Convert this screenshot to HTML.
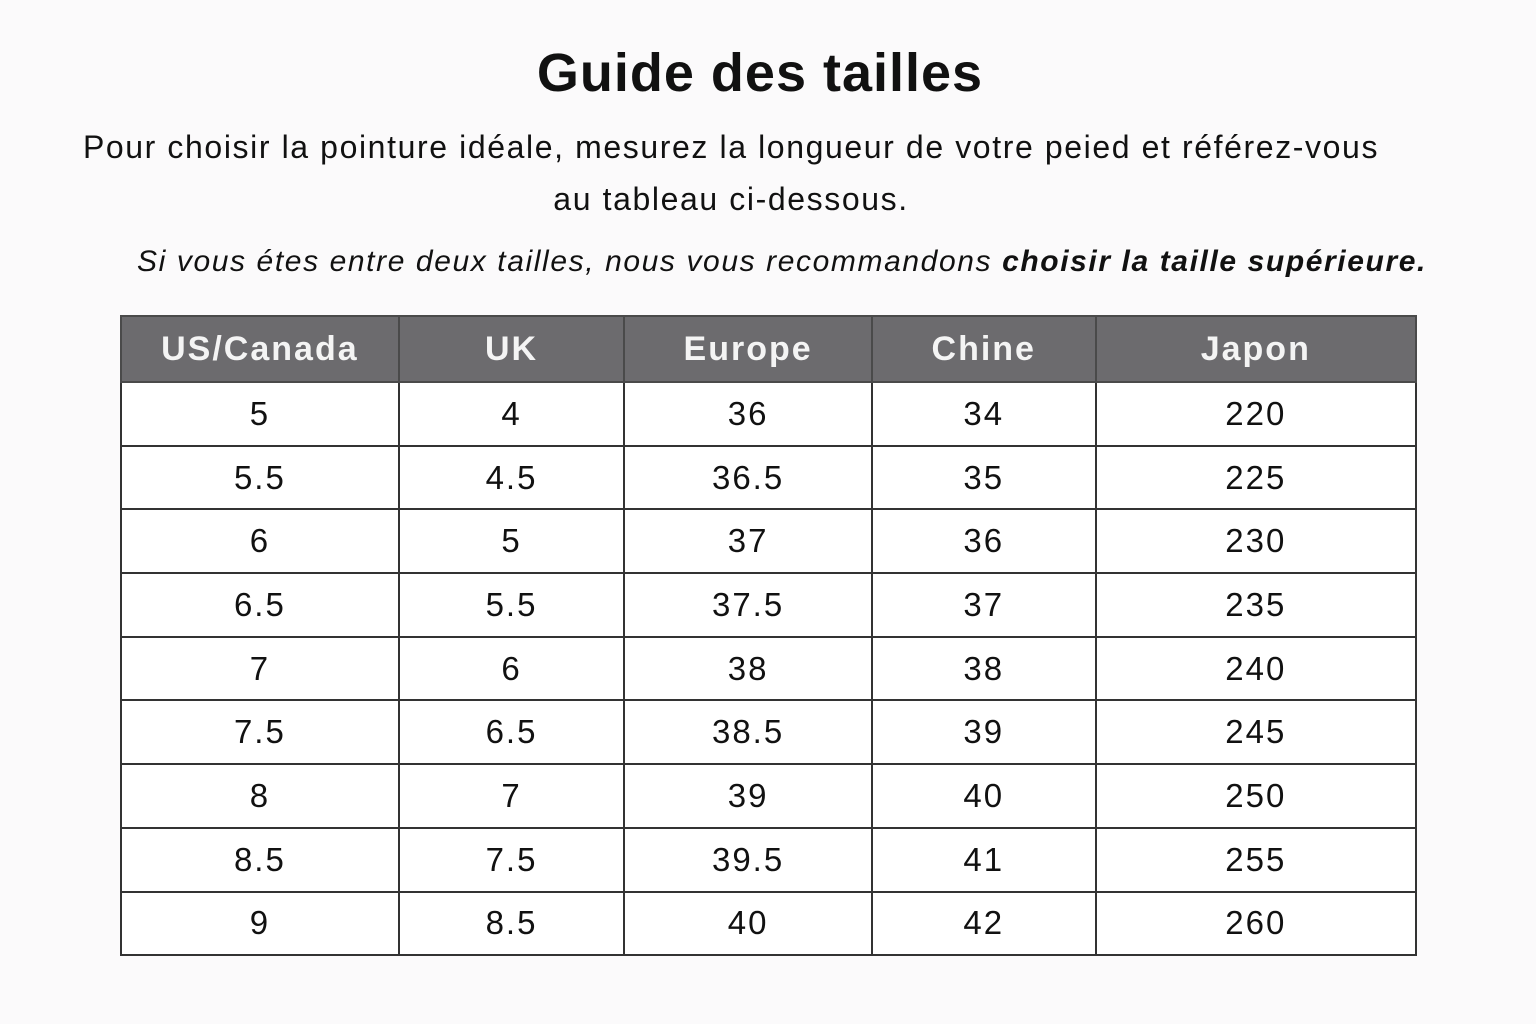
<!DOCTYPE html>
<html><head><meta charset="utf-8"><style>
body{margin:0;width:1536px;height:1024px;background:#fbfafb;font-family:"Liberation Sans",sans-serif;color:#111;position:relative;overflow:hidden}
.t{position:absolute;left:0;width:1536px;text-align:center;white-space:nowrap}
table{position:absolute;left:120px;top:315px;border-collapse:collapse;width:1297px}
td,th{border:2px solid #333;text-align:center;font-size:33px;letter-spacing:2px;padding:0;height:61.7px;font-weight:normal;background:#fff}
th{background:#6c6b6e;color:#f4f4f4;font-weight:bold;height:64px;font-size:34px;letter-spacing:2px;border-color:#4a4a4a}
</style></head><body>
<div class="t" style="top:42px;left:-8px;font-size:54px;font-weight:bold;letter-spacing:1px">Guide des tailles</div>
<div class="t" style="top:129px;left:-37px;font-size:32px;letter-spacing:1.6px">Pour choisir la pointure idéale, mesurez la longueur de votre peied et référez-vous</div>
<div class="t" style="top:181px;left:-37px;font-size:32px;letter-spacing:1.6px">au tableau ci-dessous.</div>
<div class="t" style="top:245px;left:14px;font-size:30px;font-style:italic;letter-spacing:1.6px">Si vous étes entre deux tailles, nous vous recommandons <b>choisir la taille supérieure.</b></div>
<table>
<colgroup><col style="width:278px"><col style="width:226px"><col style="width:248px"><col style="width:224px"><col style="width:321px"></colgroup>
<tr><th>US/Canada</th><th>UK</th><th>Europe</th><th>Chine</th><th>Japon</th></tr>
<tr><td>5</td><td>4</td><td>36</td><td>34</td><td>220</td></tr>
<tr><td>5.5</td><td>4.5</td><td>36.5</td><td>35</td><td>225</td></tr>
<tr><td>6</td><td>5</td><td>37</td><td>36</td><td>230</td></tr>
<tr><td>6.5</td><td>5.5</td><td>37.5</td><td>37</td><td>235</td></tr>
<tr><td>7</td><td>6</td><td>38</td><td>38</td><td>240</td></tr>
<tr><td>7.5</td><td>6.5</td><td>38.5</td><td>39</td><td>245</td></tr>
<tr><td>8</td><td>7</td><td>39</td><td>40</td><td>250</td></tr>
<tr><td>8.5</td><td>7.5</td><td>39.5</td><td>41</td><td>255</td></tr>
<tr><td>9</td><td>8.5</td><td>40</td><td>42</td><td>260</td></tr>
</table>
</body></html>
